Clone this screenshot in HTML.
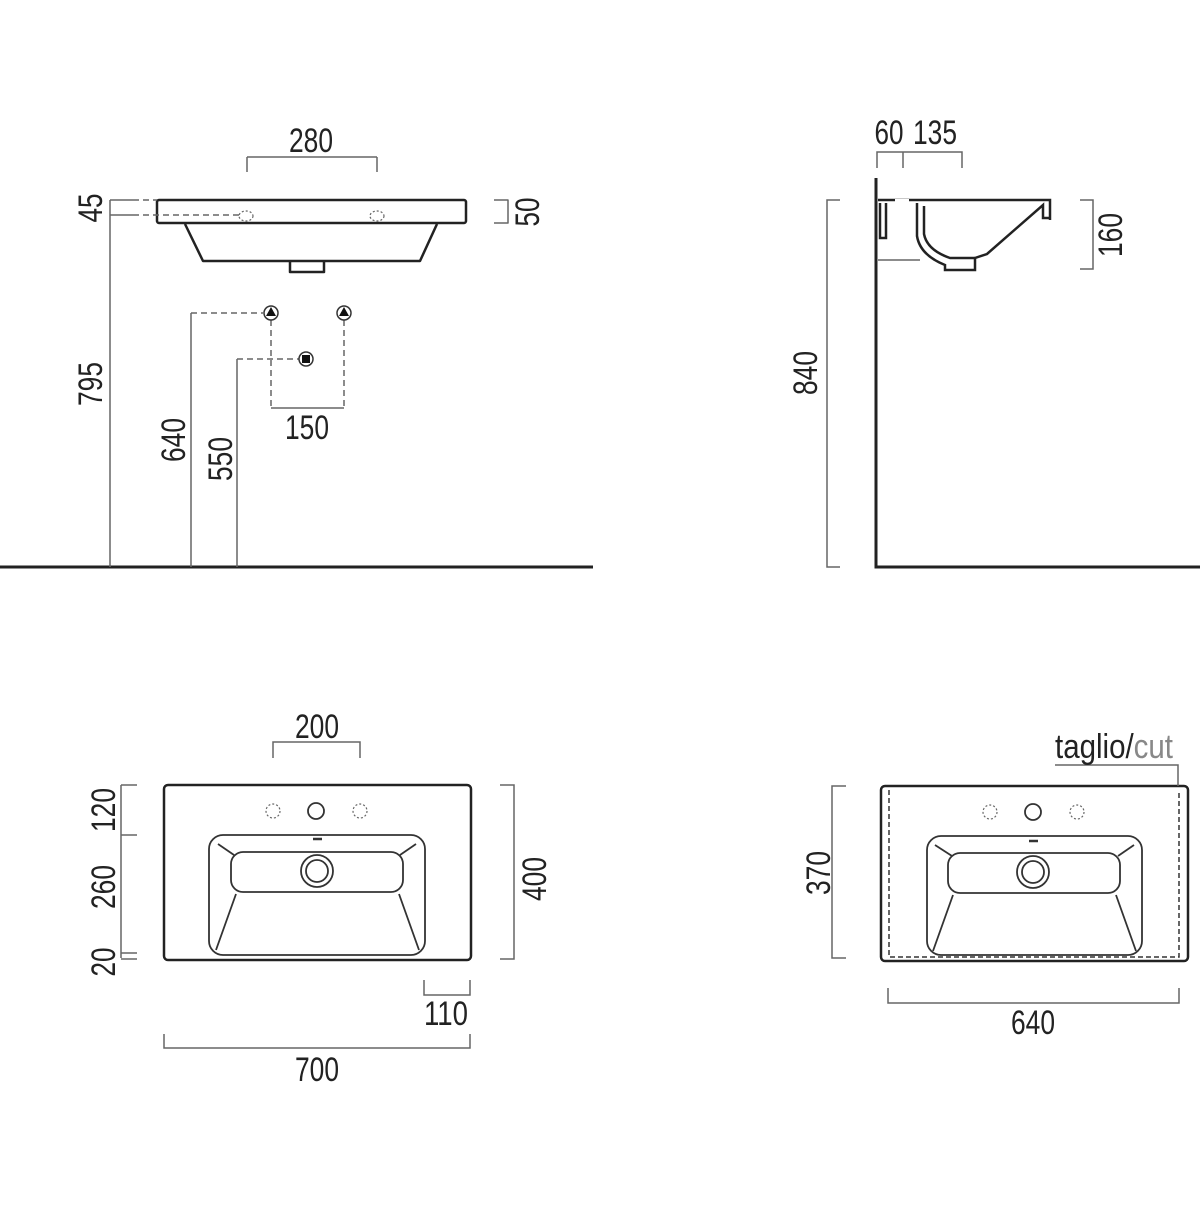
<!DOCTYPE html>
<html><head><meta charset="utf-8"><style>
body{margin:0;background:#fff}
text{font-family:"Liberation Sans Narrow","Liberation Sans",sans-serif;font-size:34px;fill:#222}
</style></head><body>
<svg width="1200" height="1200" viewBox="0 0 1200 1200" xmlns="http://www.w3.org/2000/svg">
<g fill="none" stroke-linejoin="round">
<!-- TOP LEFT -->
<line x1="0" y1="567" x2="593" y2="567" stroke="#222" stroke-width="3"/>
<rect x="157" y="200" width="309" height="23" rx="2" stroke="#222" stroke-width="2.5"/>
<path d="M185 224 L203 261 L420 261 L437 224" stroke="#222" stroke-width="2.5"/>
<path d="M290 262 V272 H324 V262" stroke="#222" stroke-width="2.5"/>
<g stroke="#666" stroke-width="1.5">
<line x1="247" y1="172" x2="247" y2="157"/><line x1="247" y1="157" x2="377" y2="157"/><line x1="377" y1="157" x2="377" y2="172"/>
<line x1="110" y1="200" x2="110" y2="567"/>
<line x1="110" y1="200" x2="133" y2="200"/><line x1="110" y1="215" x2="133" y2="215"/>
<line x1="133" y1="200" x2="157" y2="200" stroke-dasharray="6 4"/>
<line x1="133" y1="215" x2="239" y2="215" stroke-dasharray="6 4"/>
<path d="M494 200 H508 V223 H494"/>
<line x1="191" y1="313" x2="191" y2="567"/>
<line x1="191" y1="313" x2="263" y2="313" stroke-dasharray="6 4"/>
<line x1="237" y1="359" x2="237" y2="567"/>
<line x1="237" y1="359" x2="299" y2="359" stroke-dasharray="6 4"/>
<line x1="271" y1="320" x2="271" y2="408" stroke-dasharray="6 4"/>
<line x1="344" y1="320" x2="344" y2="408" stroke-dasharray="6 4"/>
<line x1="271" y1="408" x2="344" y2="408"/>
</g>
<ellipse cx="246" cy="216" rx="7" ry="5" stroke="#666" stroke-width="1.2" stroke-dasharray="2 2"/>
<ellipse cx="377" cy="216" rx="7" ry="5" stroke="#666" stroke-width="1.2" stroke-dasharray="2 2"/>
<circle cx="271" cy="313" r="7" stroke="#333" stroke-width="1.5"/>
<circle cx="344" cy="313" r="7" stroke="#333" stroke-width="1.5"/>
<circle cx="306" cy="359" r="7" stroke="#333" stroke-width="1.5"/>
</g>
<path d="M266 316 L271 307 L276 316 Z M339 316 L344 307 L349 316 Z" fill="#111"/>
<rect x="302" y="355" width="8" height="8" fill="#111"/>
<text x="311" y="152" text-anchor="middle" textLength="44" lengthAdjust="spacingAndGlyphs">280</text>
<text x="307" y="439" text-anchor="middle" textLength="44" lengthAdjust="spacingAndGlyphs">150</text>
<text transform="translate(102,208) rotate(-90)" text-anchor="middle" textLength="29" lengthAdjust="spacingAndGlyphs">45</text>
<text transform="translate(102,384) rotate(-90)" text-anchor="middle" textLength="44" lengthAdjust="spacingAndGlyphs">795</text>
<text transform="translate(185,440) rotate(-90)" text-anchor="middle" textLength="44" lengthAdjust="spacingAndGlyphs">640</text>
<text transform="translate(232,459) rotate(-90)" text-anchor="middle" textLength="44" lengthAdjust="spacingAndGlyphs">550</text>
<text transform="translate(539,212) rotate(-90)" text-anchor="middle" textLength="29" lengthAdjust="spacingAndGlyphs">50</text>

<!-- TOP RIGHT -->
<g fill="none">
<path d="M876 178 V567 H1200" stroke="#222" stroke-width="3"/>
<g stroke="#666" stroke-width="1.5">
<path d="M877 168 V152 H962 V168"/><line x1="903" y1="152" x2="903" y2="168"/>
<path d="M840 200 H827 V567 H840"/>
<path d="M1080 200 H1093 V269 H1080"/>
<line x1="878" y1="260" x2="920" y2="260"/>
</g>
<g stroke="#222" stroke-width="2.5">
<path d="M878 200 H1050 V220"/>
<path d="M880 203 V238 H886 V203"/>
<path d="M917 203 V236 Q920 255 945 265 V270 H975 V258 L987 254 L1043 205 L1043 218 L1050 218"/>
<path d="M924 206 V234 Q927 250 950 258 L975 258"/>
</g>
<rect x="895" y="199" width="14" height="4" fill="#fff"/>
</g>
<text x="889" y="144" text-anchor="middle" textLength="29" lengthAdjust="spacingAndGlyphs">60</text>
<text x="935" y="144" text-anchor="middle" textLength="44" lengthAdjust="spacingAndGlyphs">135</text>
<text transform="translate(817,373) rotate(-90)" text-anchor="middle" textLength="44" lengthAdjust="spacingAndGlyphs">840</text>
<text transform="translate(1122,235) rotate(-90)" text-anchor="middle" textLength="44" lengthAdjust="spacingAndGlyphs">160</text>

<!-- BOTTOM LEFT -->
<g fill="none">
<rect x="164" y="785" width="307" height="175" rx="4" stroke="#222" stroke-width="2.5"/>
<g stroke="#333" stroke-width="1.8">
<rect x="209" y="835" width="216" height="120" rx="14"/>
<rect x="231" y="852" width="172" height="40" rx="12"/>
<circle cx="317" cy="871" r="16"/><circle cx="317" cy="871" r="11"/>
<line x1="218" y1="844" x2="234" y2="855"/><line x1="416" y1="844" x2="400" y2="855"/>
<line x1="236" y1="894" x2="216" y2="950"/><line x1="399" y1="894" x2="419" y2="950"/>
<line x1="313" y1="839" x2="322" y2="839" stroke-width="2.5"/>
<circle cx="316" cy="811" r="8"/>
</g>
<circle cx="273" cy="811" r="7" stroke="#666" stroke-width="1.2" stroke-dasharray="2 2"/>
<circle cx="360" cy="811" r="7" stroke="#666" stroke-width="1.2" stroke-dasharray="2 2"/>
<g stroke="#666" stroke-width="1.5">
<path d="M273 758 V742 H360 V758"/>
<line x1="121" y1="785" x2="121" y2="958"/>
<line x1="121" y1="785" x2="137" y2="785"/><line x1="121" y1="835" x2="137" y2="835"/>
<line x1="121" y1="953" x2="137" y2="953"/><line x1="121" y1="959" x2="137" y2="959"/>
<path d="M500 785 H514 V959 H500"/>
<path d="M424 980 V995 H470 V980"/>
<path d="M164 1034 V1048 H470 V1034"/>
</g>
</g>
<text x="317" y="738" text-anchor="middle" textLength="44" lengthAdjust="spacingAndGlyphs">200</text>
<text transform="translate(115,810) rotate(-90)" text-anchor="middle" textLength="44" lengthAdjust="spacingAndGlyphs">120</text>
<text transform="translate(115,887) rotate(-90)" text-anchor="middle" textLength="44" lengthAdjust="spacingAndGlyphs">260</text>
<text transform="translate(115,962) rotate(-90)" text-anchor="middle" textLength="29" lengthAdjust="spacingAndGlyphs">20</text>
<text transform="translate(546,879) rotate(-90)" text-anchor="middle" textLength="44" lengthAdjust="spacingAndGlyphs">400</text>
<text x="446" y="1025" text-anchor="middle" textLength="44" lengthAdjust="spacingAndGlyphs">110</text>
<text x="317" y="1081" text-anchor="middle" textLength="44" lengthAdjust="spacingAndGlyphs">700</text>

<!-- BOTTOM RIGHT -->
<g fill="none">
<rect x="881" y="786" width="307" height="175" rx="4" stroke="#222" stroke-width="2.5"/>
<path d="M889 790 V957 H1179 V790" stroke="#333" stroke-width="1.5" stroke-dasharray="5 3"/>
<g stroke="#333" stroke-width="1.8">
<rect x="927" y="836" width="215" height="119" rx="14"/>
<rect x="948" y="853" width="172" height="40" rx="12"/>
<circle cx="1033" cy="872" r="16"/><circle cx="1033" cy="872" r="11"/>
<line x1="935" y1="845" x2="952" y2="856"/><line x1="1134" y1="845" x2="1118" y2="856"/>
<line x1="953" y1="895" x2="933" y2="951"/><line x1="1116" y1="895" x2="1136" y2="951"/>
<line x1="1029" y1="841" x2="1038" y2="841" stroke-width="2.5"/>
<circle cx="1033" cy="812" r="8"/>
</g>
<circle cx="990" cy="812" r="7" stroke="#666" stroke-width="1.2" stroke-dasharray="2 2"/>
<circle cx="1077" cy="812" r="7" stroke="#666" stroke-width="1.2" stroke-dasharray="2 2"/>
<g stroke="#666" stroke-width="1.5">
<path d="M1055 765 H1178 V786"/>
<path d="M846 786 H832 V958 H846"/>
<path d="M888 988 V1003 H1179 V988"/>
</g>
</g>
<text x="1055" y="758" textLength="118" lengthAdjust="spacingAndGlyphs">taglio/<tspan fill="#888">cut</tspan></text>
<text transform="translate(830,873) rotate(-90)" text-anchor="middle" textLength="44" lengthAdjust="spacingAndGlyphs">370</text>
<text x="1033" y="1034" text-anchor="middle" textLength="44" lengthAdjust="spacingAndGlyphs">640</text>
</svg>
</body></html>
